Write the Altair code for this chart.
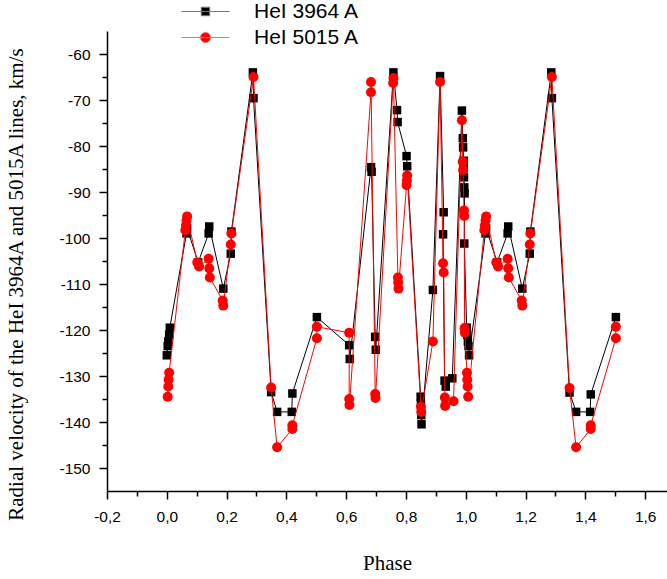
import altair as alt
import pandas as pd

S1 = "HeI 3964 A"
S2 = "HeI 5015 A"

phase_3964 = [0.000, 0.003, 0.005, 0.008, 0.010,
              0.066, 0.068,
              0.105,
              0.140, 0.142,
              0.189,
              0.214, 0.216,
              0.288, 0.290,
              0.349,
              0.369,
              0.418, 0.420,
              0.502,
              0.610, 0.612,
              0.683, 0.685,
              0.697, 0.699,
              0.758,
              0.770, 0.772,
              0.802, 0.804,
              0.849, 0.850, 0.851, 0.852,
              0.890,
              0.914,
              0.926, 0.924,
              0.929, 0.933,
              0.955,
              0.987, 0.990, 0.991, 0.993, 0.993, 0.994, 0.995, 0.996, 0.995,
              1.003, 1.005, 1.007, 1.009, 1.011,
              1.066, 1.068,
              1.105,
              1.140, 1.142,
              1.189,
              1.214, 1.216,
              1.286, 1.288,
              1.347,
              1.369,
              1.416, 1.418,
              1.502]
vel_3964 = [-125.5, -123.5, -122.5, -121.0, -119.5,
            -99.0, -97.9,
            -105.3,
            -99.0, -97.5,
            -111.0,
            -103.4, -98.6,
            -64.0, -69.6,
            -133.5,
            -137.8,
            -137.8, -133.8,
            -117.2,
            -123.3, -126.3,
            -84.6, -85.6,
            -121.5, -124.3,
            -64.0,
            -72.2, -74.8,
            -82.2, -84.4,
            -134.5, -136.0, -138.5, -140.5,
            -111.3,
            -64.8,
            -94.4, -99.2,
            -131.0, -132.3,
            -130.5,
            -72.3, -78.3, -80.3, -83.2, -84.8, -86.8, -89.0, -90.3, -101.2,
            -119.5, -121.0, -122.5, -123.5, -125.5,
            -99.0, -97.9,
            -105.3,
            -99.0, -97.5,
            -111.0,
            -103.4, -98.6,
            -64.0, -69.6,
            -133.6,
            -137.8,
            -137.8, -134.0,
            -117.2]

phase_5015 = [0.003, 0.005, 0.006, 0.008,
              0.062, 0.064, 0.066, 0.068,
              0.102, 0.108,
              0.140, 0.142, 0.144,
              0.187, 0.189,
              0.214, 0.216,
              0.290,
              0.349,
              0.369,
              0.420, 0.420,
              0.502, 0.502,
              0.610, 0.610, 0.611,
              0.683, 0.683,
              0.697, 0.698,
              0.757, 0.758,
              0.773, 0.774, 0.775,
              0.802, 0.803, 0.804,
              0.850, 0.851,
              0.890,
              0.914,
              0.924, 0.926,
              0.930, 0.931,
              0.959,
              0.987,
              0.990, 0.991,
              0.994, 0.995,
              0.996, 0.997,
              1.004, 1.005, 1.006, 1.008,
              1.062, 1.064, 1.066, 1.068,
              1.102, 1.108,
              1.140, 1.142, 1.144,
              1.187, 1.189,
              1.214, 1.216,
              1.288,
              1.347,
              1.369,
              1.418, 1.418,
              1.502, 1.502]
vel_5015 = [-134.5, -132.3, -130.8, -129.3,
            -98.3, -97.3, -96.2, -95.3,
            -105.3, -106.2,
            -104.5, -106.6, -108.6,
            -113.6, -114.7,
            -101.4, -99.0,
            -65.0,
            -132.5,
            -145.5,
            -141.5, -140.7,
            -121.8, -119.3,
            -120.6, -135.0, -136.3,
            -68.3, -66.1,
            -133.9, -134.8,
            -66.3, -65.2,
            -108.6, -109.7, -111.0,
            -88.5, -87.5, -86.4,
            -136.7, -137.8,
            -122.5,
            -66.1,
            -105.5, -107.5,
            -134.7, -136.5,
            -135.5,
            -74.4,
            -83.4, -85.2,
            -94.0, -95.2,
            -119.6, -120.6,
            -129.3, -130.8, -132.3, -134.5,
            -98.3, -97.3, -96.2, -95.3,
            -105.3, -106.2,
            -104.5, -106.6, -108.6,
            -113.6, -114.7,
            -101.4, -99.0,
            -65.0,
            -132.6,
            -145.5,
            -141.5, -140.7,
            -121.8, -119.3]

x_tick_values = [-0.2, -0.1, 0.0, 0.1, 0.2, 0.3, 0.4, 0.5, 0.6, 0.7, 0.8,
                 0.9, 1.0, 1.1, 1.2, 1.3, 1.4, 1.5, 1.6]
y_tick_values = [-150, -145, -140, -135, -130, -125, -120, -115, -110, -105,
                 -100, -95, -90, -85, -80, -75, -70, -65, -60]

assert len(phase_3964) == len(vel_3964)
assert len(phase_5015) == len(vel_5015)

df1 = pd.DataFrame({"phase": phase_3964, "vel": vel_3964,
                    "idx": list(range(len(phase_3964))), "series": S1})
df2 = pd.DataFrame({"phase": phase_5015, "vel": vel_5015,
                    "idx": list(range(len(phase_5015))), "series": S2})
df = pd.concat([df1, df2], ignore_index=True)

SANS = "Liberation Sans"
SERIF = "Liberation Serif"

x_axis = alt.Axis(
    values=x_tick_values,
    labelExpr="round(datum.value*10) % 2 == 0 ? (datum.value < 0 ? '-' : '') + replace(format(abs(datum.value), '.1f'), '.', ',') : ''",
    tickSize={"condition": {"test": "round(datum.value*10) % 2 == 0", "value": 8}, "value": 5},
    grid=False, domainColor="black", domainWidth=1.5, tickColor="black", tickWidth=1.5,
    labelFont=SANS, labelFontSize=15.5, labelColor="black", labelPadding=10,
    labelFlush=False, labelOverlap=False,
    titleFont=SERIF, titleFontSize=21, titleFontWeight="normal", titleColor="black",
    titleY=72, titleBaseline="middle",
)
y_axis = alt.Axis(
    values=y_tick_values,
    labelExpr="datum.value % 10 == 0 ? '-' + format(abs(datum.value), 'd') : ''",
    tickSize={"condition": {"test": "datum.value % 10 == 0", "value": 8}, "value": 5},
    grid=False, domainColor="black", domainWidth=1.5, tickColor="black", tickWidth=1.5,
    labelFont=SANS, labelFontSize=15.5, labelColor="black", labelPadding=9,
    labelFlush=False, labelOverlap=False,
    titleFont=SERIF, titleFontSize=21, titleFontWeight="normal", titleColor="black",
    titleX=-91, titleY=253, titleBaseline="middle", titleAlign="center", titleAngle=270,
)

x_enc = alt.X("phase:Q", title="Phase",
              scale=alt.Scale(domain=[-0.2, 1.673], nice=False, zero=False),
              axis=x_axis)
y_enc = alt.Y("vel:Q", title="Radial velocity of the HeI 3964A and 5015A lines, km/s",
              scale=alt.Scale(domain=[-155, -55], nice=False, zero=False),
              axis=y_axis)

base = alt.Chart(df)

line1 = base.transform_filter(alt.datum.series == S1).mark_line(
    color="black", strokeWidth=1).encode(x=x_enc, y=y_enc, order="idx:Q")
pts1 = base.transform_filter(alt.datum.series == S1).mark_square(
    color="black", size=72, opacity=1).encode(x=x_enc, y=y_enc)
line2 = base.transform_filter(alt.datum.series == S2).mark_line(
    color="#ff0000", strokeWidth=1).encode(x=x_enc, y=y_enc, order="idx:Q")
pts2 = base.transform_filter(alt.datum.series == S2).mark_circle(
    color="#ff0000", size=100, opacity=1).encode(x=x_enc, y=y_enc)

sq_path = "M-2.67,0L2.67,0M-0.47,-0.47L0.47,-0.47L0.47,0.47L-0.47,0.47Z"
circ_path = "M-2.67,0L2.67,0M-0.56,0A0.56,0.56,0,1,0,0.56,0A0.56,0.56,0,1,0,-0.56,0Z"

leg = alt.Legend(title=None, orient="none", legendX=88, legendY=-30,
                 direction="vertical", labelFont=SANS, labelFontSize=21,
                 labelColor="black", labelOffset=38, rowPadding=4,
                 symbolSize=324, symbolStrokeWidth=1, padding=0)

legend_layer = base.transform_filter("false").mark_point(
    filled=True, size=324, opacity=1, strokeWidth=1).encode(
    x=x_enc, y=y_enc,
    fill=alt.Fill("series:N", scale=alt.Scale(domain=[S1, S2], range=["#000000", "#ff0000"]), legend=leg),
    stroke=alt.Stroke("series:N", scale=alt.Scale(domain=[S1, S2], range=["#777777", "#ff6a6a"]), legend=leg),
    shape=alt.Shape("series:N", scale=alt.Scale(domain=[S1, S2], range=[sq_path, circ_path]), legend=leg),
)

chart = alt.layer(line1, pts1, line2, pts2, legend_layer).properties(
    width=560, height=460,
    autosize=alt.AutoSizeParams(type="none"),
    padding={"left": 107, "top": 31, "right": 0, "bottom": 88},
    background="white",
).configure_view(strokeWidth=0)

chart.save("out.html", embed_options={"renderer": "svg", "actions": False})
